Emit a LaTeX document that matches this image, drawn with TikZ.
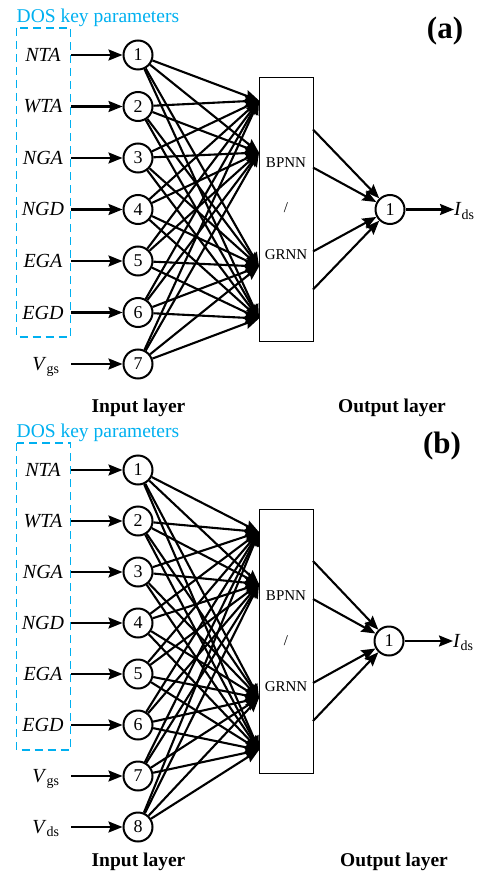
\documentclass[tikz,border=0pt]{standalone}
\usepackage{fontspec}
\setmainfont{Liberation Serif}
\usetikzlibrary{positioning,calc}
\usetikzlibrary{arrows.meta}
\definecolor{DosCyan}{RGB}{0,176,240}
\tikzset{neuron/.style={circle,draw=black,line width=2pt,fill=white,inner sep=0pt,minimum size=29pt,font=\fontsize{18}{18}\selectfont}, param/.style={inner sep=0pt,text height=13pt,text depth=0pt,font=\fontsize{20}{20}\selectfont}, link/.style={line width=2.1pt,-{Stealth[length=14pt,width=11pt,inset=2pt]}}, netbox/.style={draw=black,line width=1pt,fill=white,minimum width=54pt,minimum height=264pt,inner sep=0pt}, boxtext/.style={inner sep=0pt,text height=10pt,text depth=0pt,font=\fontsize{15}{15}\selectfont}, dosbox/.style={draw=DosCyan,line width=1.3pt,dash pattern=on 8pt off 5pt}, doslabel/.style={inner sep=0pt,anchor=base west,text=DosCyan,font=\fontsize{19.5}{19.5}\selectfont}, layer/.style={inner sep=0pt,anchor=base,font=\fontsize{19.5}{19.5}\selectfont\bfseries}, panel/.style={inner sep=0pt,anchor=base,font=\fontsize{31}{31}\selectfont\bfseries}}

\begin{document}
\begin{tikzpicture}[x=1pt,y=-1pt]
\useasboundingbox (0,0) rectangle (484,874);
% panel (a)
\node[doslabel] (dosa) at (16.5,22.5) {DOS key parameters};
\node[panel] (taga) at (445,39) {(a)};
\draw[dosbox] (16.5,28) rectangle (70.5,337);
\node[netbox] (neta) at (286,209.5) {};
\node[boxtext] (bpa) at (286,163) {BPNN};
\node[boxtext] (sla) at (286,208) {/};
\node[boxtext] (gra) at (286,255) {GRNN};
\coordinate (ta1) at (259,100.5);
\coordinate (ta2) at (259,152.5);
\coordinate (ta3) at (259,266.5);
\coordinate (ta4) at (259,318.5);
\coordinate (ra1) at (313,129.5);
\coordinate (ra2) at (313,167.5);
\coordinate (ra3) at (313,251.5);
\coordinate (ra4) at (313,289.5);
\node[neuron] (a1) at (138,55) {1};
\node[neuron] (a2) at (138,106.5) {2};
\node[neuron] (a3) at (138,158) {3};
\node[neuron] (a4) at (138,209.5) {4};
\node[neuron] (a5) at (138,261) {5};
\node[neuron] (a6) at (138,312.5) {6};
\node[neuron] (a7) at (138,364) {7};
\node[param] (la1) at (43,55) {\textit{NTA}};
\node[param] (la2) at (43,106.5) {\textit{WTA}};
\node[param] (la3) at (43,158) {\textit{NGA}};
\node[param] (la4) at (43,209.5) {\textit{NGD}};
\node[param] (la5) at (43,261) {\textit{EGA}};
\node[param] (la6) at (43,312.5) {\textit{EGD}};
\node[param] (la7) at (46,364) {\textit{V}\textsubscript{gs}};
\coordinate (sa1) at (71,55);
\coordinate (sa2) at (71,106.5);
\coordinate (sa3) at (71,158);
\coordinate (sa4) at (71,209.5);
\coordinate (sa5) at (71,261);
\coordinate (sa6) at (71,312.5);
\coordinate (sa7) at (71,364);
\draw[link] (sa1) -- (a1);
\draw[link] (sa2) -- (a2);
\draw[link] (sa3) -- (a3);
\draw[link] (sa4) -- (a4);
\draw[link] (sa5) -- (a5);
\draw[link] (sa6) -- (a6);
\draw[link] (sa7) -- (a7);
\path (a1) edge[link] (ta1) edge[link] (ta2) edge[link] (ta3) edge[link] (ta4);
\path (a2) edge[link] (ta1) edge[link] (ta2) edge[link] (ta3) edge[link] (ta4);
\path (a3) edge[link] (ta1) edge[link] (ta2) edge[link] (ta3) edge[link] (ta4);
\path (a4) edge[link] (ta1) edge[link] (ta2) edge[link] (ta3) edge[link] (ta4);
\path (a5) edge[link] (ta1) edge[link] (ta2) edge[link] (ta3) edge[link] (ta4);
\path (a6) edge[link] (ta1) edge[link] (ta2) edge[link] (ta3) edge[link] (ta4);
\path (a7) edge[link] (ta1) edge[link] (ta2) edge[link] (ta3) edge[link] (ta4);
\node[neuron] (oa) at (390,209.5) {1};
\coordinate (ea) at (454,209.5);
\path (ra1) edge[link] (oa) (ra2) edge[link] (oa) (ra3) edge[link] (oa) (ra4) edge[link] (oa);
\draw[link] (oa) -- (ea);
\node[param,anchor=west] (ida) at (ea) {\textit{I}\textsubscript{ds}};
\node[layer] (ina) at (138.5,412) {Input layer};
\node[layer] (outa) at (392,412) {Output layer};
% panel (b)
\node[doslabel] (dosb) at (16.5,437.5) {DOS key parameters};
\node[panel] (tagb) at (442,453) {(b)};
\draw[dosbox] (16.5,443) rectangle (70.5,750);
\node[netbox] (netb) at (286,641) {};
\node[boxtext] (bpb) at (286,595) {BPNN};
\node[boxtext] (slb) at (286,640) {/};
\node[boxtext] (grb) at (286,686) {GRNN};
\coordinate (tb1) at (259,532);
\coordinate (tb2) at (259,584);
\coordinate (tb3) at (259,698);
\coordinate (tb4) at (259,750);
\coordinate (rb1) at (313,561);
\coordinate (rb2) at (313,599);
\coordinate (rb3) at (313,683);
\coordinate (rb4) at (313,721);
\node[neuron] (b1) at (138,470) {1};
\node[neuron] (b2) at (138,521) {2};
\node[neuron] (b3) at (138,572) {3};
\node[neuron] (b4) at (138,623) {4};
\node[neuron] (b5) at (138,674) {5};
\node[neuron] (b6) at (138,725) {6};
\node[neuron] (b7) at (138,776) {7};
\node[neuron] (b8) at (138,827) {8};
\node[param] (lb1) at (43,470) {\textit{NTA}};
\node[param] (lb2) at (43,521) {\textit{WTA}};
\node[param] (lb3) at (43,572) {\textit{NGA}};
\node[param] (lb4) at (43,623) {\textit{NGD}};
\node[param] (lb5) at (43,674) {\textit{EGA}};
\node[param] (lb6) at (43,725) {\textit{EGD}};
\node[param] (lb7) at (46,776) {\textit{V}\textsubscript{gs}};
\node[param] (lb8) at (46,827) {\textit{V}\textsubscript{ds}};
\coordinate (sb1) at (71,470);
\coordinate (sb2) at (71,521);
\coordinate (sb3) at (71,572);
\coordinate (sb4) at (71,623);
\coordinate (sb5) at (71,674);
\coordinate (sb6) at (71,725);
\coordinate (sb7) at (71,776);
\coordinate (sb8) at (71,827);
\draw[link] (sb1) -- (b1);
\draw[link] (sb2) -- (b2);
\draw[link] (sb3) -- (b3);
\draw[link] (sb4) -- (b4);
\draw[link] (sb5) -- (b5);
\draw[link] (sb6) -- (b6);
\draw[link] (sb7) -- (b7);
\draw[link] (sb8) -- (b8);
\path (b1) edge[link] (tb1) edge[link] (tb2) edge[link] (tb3) edge[link] (tb4);
\path (b2) edge[link] (tb1) edge[link] (tb2) edge[link] (tb3) edge[link] (tb4);
\path (b3) edge[link] (tb1) edge[link] (tb2) edge[link] (tb3) edge[link] (tb4);
\path (b4) edge[link] (tb1) edge[link] (tb2) edge[link] (tb3) edge[link] (tb4);
\path (b5) edge[link] (tb1) edge[link] (tb2) edge[link] (tb3) edge[link] (tb4);
\path (b6) edge[link] (tb1) edge[link] (tb2) edge[link] (tb3) edge[link] (tb4);
\path (b7) edge[link] (tb1) edge[link] (tb2) edge[link] (tb3) edge[link] (tb4);
\path (b8) edge[link] (tb1) edge[link] (tb2) edge[link] (tb3) edge[link] (tb4);
\node[neuron] (ob) at (389,641) {1};
\coordinate (eb) at (453,641);
\path (rb1) edge[link] (ob) (rb2) edge[link] (ob) (rb3) edge[link] (ob) (rb4) edge[link] (ob);
\draw[link] (ob) -- (eb);
\node[param,anchor=west] (idb) at (eb) {\textit{I}\textsubscript{ds}};
\node[layer] (inb) at (138.5,866) {Input layer};
\node[layer] (outb) at (394,866) {Output layer};
\end{tikzpicture}
\end{document}
